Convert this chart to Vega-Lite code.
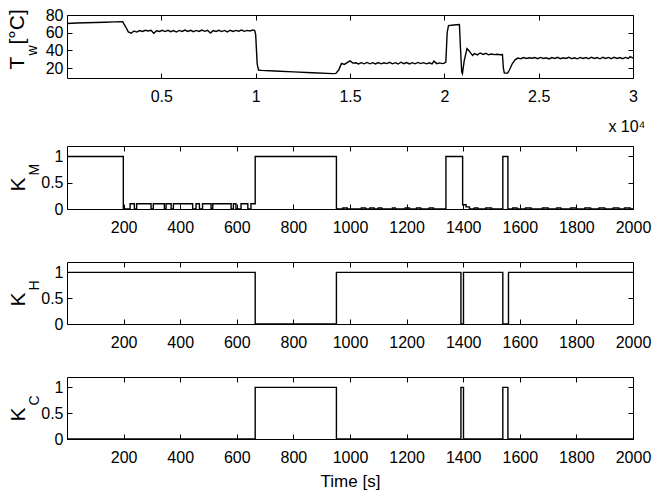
{
  "$schema": "https://vega.github.io/schema/vega-lite/v6.json",
  "padding": {"left": 5, "top": 6, "right": 5, "bottom": 0},
  "spacing": 10,
  "datasets": {
    "tw": [
      {"t":0,"v":70.5},{"t":500,"v":71},{"t":1000,"v":71.3},{"t":1500,"v":71.6},{"t":2000,"v":71.9},{"t":2500,"v":72.2},{"t":2950,"v":72.4},{"t":3100,"v":67},{"t":3250,"v":61},{"t":3400,"v":59.5},{"t":3550,"v":62},{"t":3700,"v":60.8},{"t":3850,"v":62.5},{"t":4000,"v":61.5},{"t":4150,"v":62.8},{"t":4300,"v":62},{"t":4450,"v":62.8},{"t":4600,"v":59.5},{"t":4750,"v":62.3},{"t":4900,"v":61.5},{"t":5050,"v":62.8},{"t":5200,"v":61.3},{"t":5350,"v":62.8},{"t":5500,"v":61.2},{"t":5650,"v":62.5},{"t":5800,"v":60.8},{"t":5950,"v":62.6},{"t":6100,"v":61.5},{"t":6250,"v":63},{"t":6400,"v":61.5},{"t":6550,"v":62.8},{"t":6700,"v":61.2},{"t":6850,"v":62.6},{"t":7000,"v":61.5},{"t":7150,"v":63},{"t":7300,"v":61.6},{"t":7450,"v":62.8},{"t":7600,"v":59.6},{"t":7750,"v":62.4},{"t":7900,"v":61.4},{"t":8050,"v":62.8},{"t":8200,"v":61.3},{"t":8350,"v":62.6},{"t":8500,"v":61},{"t":8650,"v":62.8},{"t":8800,"v":61.5},{"t":8950,"v":62.6},{"t":9100,"v":61.8},{"t":9250,"v":63},{"t":9400,"v":61.6},{"t":9550,"v":62.7},{"t":9700,"v":62},{"t":9850,"v":63.2},{"t":9950,"v":62.5},{"t":10000,"v":58},{"t":10080,"v":25},{"t":10150,"v":18},{"t":10300,"v":17.6},{"t":11000,"v":16.9},{"t":12000,"v":15.9},{"t":13000,"v":14.9},{"t":14100,"v":13.9},{"t":14250,"v":14.2},{"t":14400,"v":18},{"t":14550,"v":25.5},{"t":14700,"v":24.3},{"t":14850,"v":26.3},{"t":15000,"v":28.2},{"t":15150,"v":25.8},{"t":15300,"v":26.2},{"t":15450,"v":24.8},{"t":15600,"v":26.3},{"t":15750,"v":25},{"t":15900,"v":26.5},{"t":16050,"v":25},{"t":16200,"v":26.3},{"t":16350,"v":24.8},{"t":16500,"v":26.4},{"t":16650,"v":25},{"t":16800,"v":26.2},{"t":16950,"v":25.2},{"t":17100,"v":26.6},{"t":17250,"v":25},{"t":17400,"v":26.3},{"t":17550,"v":24.8},{"t":17700,"v":26.8},{"t":17850,"v":25.2},{"t":18000,"v":26.4},{"t":18150,"v":24.8},{"t":18300,"v":26.3},{"t":18450,"v":25},{"t":18600,"v":26.5},{"t":18750,"v":25.2},{"t":18900,"v":26.3},{"t":19050,"v":25},{"t":19200,"v":26.2},{"t":19350,"v":24.8},{"t":19450,"v":28},{"t":19600,"v":25.2},{"t":19750,"v":26},{"t":19900,"v":25.2},{"t":20000,"v":25.8},{"t":20080,"v":27},{"t":20150,"v":60},{"t":20220,"v":68},{"t":20500,"v":68.8},{"t":20800,"v":69.3},{"t":20850,"v":45},{"t":20920,"v":16},{"t":20960,"v":14},{"t":21050,"v":28},{"t":21200,"v":42},{"t":21300,"v":40},{"t":21400,"v":37},{"t":21500,"v":34.5},{"t":21600,"v":36.5},{"t":21750,"v":35},{"t":21900,"v":37.2},{"t":22050,"v":35.5},{"t":22200,"v":36.8},{"t":22350,"v":35.2},{"t":22500,"v":36},{"t":22650,"v":35.3},{"t":22800,"v":35.8},{"t":22950,"v":35.2},{"t":23080,"v":35.5},{"t":23130,"v":20},{"t":23180,"v":14.5},{"t":23350,"v":14.5},{"t":23450,"v":18},{"t":23600,"v":25},{"t":23750,"v":29.5},{"t":23900,"v":31.5},{"t":24050,"v":30.8},{"t":24200,"v":32},{"t":24350,"v":31},{"t":24500,"v":31.8},{"t":24650,"v":31.2},{"t":24800,"v":32},{"t":24950,"v":30.8},{"t":25100,"v":32.2},{"t":25250,"v":31},{"t":25400,"v":31.8},{"t":25550,"v":30.5},{"t":25700,"v":32},{"t":25850,"v":31},{"t":26000,"v":32.3},{"t":26150,"v":30.8},{"t":26300,"v":31.8},{"t":26450,"v":31},{"t":26600,"v":32.4},{"t":26750,"v":30.8},{"t":26900,"v":31.8},{"t":27050,"v":30.6},{"t":27200,"v":32.2},{"t":27350,"v":31},{"t":27500,"v":32},{"t":27650,"v":30.8},{"t":27800,"v":32.4},{"t":27950,"v":31},{"t":28100,"v":32},{"t":28250,"v":30.6},{"t":28400,"v":32.3},{"t":28550,"v":31},{"t":28700,"v":32.2},{"t":28850,"v":30.8},{"t":29000,"v":32.4},{"t":29150,"v":31},{"t":29300,"v":32},{"t":29450,"v":30.7},{"t":29600,"v":32.2},{"t":29750,"v":31},{"t":29850,"v":33},{"t":30000,"v":31.5}
    ],
    "km": [
      {"t":0,"v":1},{"t":199,"v":0},{"t":223,"v":0.1},{"t":238,"v":0},{"t":246,"v":0.1},{"t":297,"v":0},{"t":305,"v":0.1},{"t":344,"v":0},{"t":350,"v":0.1},{"t":368,"v":0},{"t":376,"v":0.1},{"t":444,"v":0},{"t":456,"v":0.1},{"t":468,"v":0},{"t":479,"v":0.1},{"t":509,"v":0},{"t":515,"v":0.1},{"t":580,"v":0},{"t":588,"v":0.1},{"t":597,"v":0},{"t":615,"v":0.1},{"t":639,"v":0},{"t":650,"v":0.1},{"t":665,"v":1},{"t":952,"v":0},{"t":975,"v":0.02},{"t":990,"v":0},{"t":1040,"v":0.02},{"t":1055,"v":0},{"t":1070,"v":0.02},{"t":1085,"v":0},{"t":1100,"v":0.02},{"t":1112,"v":0},{"t":1150,"v":0.02},{"t":1160,"v":0},{"t":1195,"v":0.02},{"t":1210,"v":0},{"t":1235,"v":0.02},{"t":1250,"v":0},{"t":1280,"v":0.02},{"t":1295,"v":0},{"t":1339,"v":1},{"t":1398,"v":0.08},{"t":1410,"v":0.04},{"t":1422,"v":0},{"t":1440,"v":0.02},{"t":1452,"v":0},{"t":1480,"v":0.02},{"t":1500,"v":0},{"t":1540,"v":1},{"t":1558,"v":0},{"t":1575,"v":0.02},{"t":1590,"v":0},{"t":1620,"v":0.02},{"t":1640,"v":0},{"t":1680,"v":0.02},{"t":1700,"v":0},{"t":1730,"v":0.02},{"t":1745,"v":0},{"t":1780,"v":0.02},{"t":1800,"v":0},{"t":1830,"v":0.02},{"t":1850,"v":0},{"t":1880,"v":0.02},{"t":1900,"v":0},{"t":1930,"v":0.02},{"t":1950,"v":0},{"t":1970,"v":0.02},{"t":1990,"v":0},{"t":2000,"v":0}
    ],
    "kh": [
      {"t":0,"v":1},{"t":665,"v":0},{"t":952,"v":1},{"t":1392,"v":0},{"t":1401,"v":1},{"t":1540,"v":0},{"t":1560,"v":1},{"t":2000,"v":1}
    ],
    "kc": [
      {"t":0,"v":0},{"t":665,"v":1},{"t":952,"v":0},{"t":1392,"v":1},{"t":1401,"v":0},{"t":1540,"v":1},{"t":1558,"v":0},{"t":2000,"v":0}
    ]
  },
  "vconcat": [
    {
      "data": {"name": "tw"},
      "width": 566, "height": 63,
      "layer": [
        {
          "mark": {"type": "line", "color": "black", "strokeWidth": 1.4},
          "encoding": {
            "x": {"field": "t", "type": "quantitative", "scale": {"domain": [0, 30000], "nice": false, "zero": false},
              "axis": {"orient": "bottom", "values": [5000, 10000, 15000, 20000, 25000, 30000], "labelExpr": "'' + datum.value / 10000",
                "title": "x 10⁴", "titleX": 578, "titleY": 53, "titleAlign": "right", "titleBaseline": "alphabetic", "titleFontSize": 16}},
            "y": {"field": "v", "type": "quantitative", "scale": {"domain": [9, 80], "nice": false, "zero": false},
              "axis": {"orient": "left", "values": [20, 40, 60, 80], "labelPadding": 9, "labelExpr": "'' + datum.value",
                "title": "T", "titleX": -44, "titleY": 54, "titleAngle": 270, "titleAlign": "left", "titleBaseline": "alphabetic", "titleFontSize": 21}}
          }
        },
        {
          "mark": {"type": "line", "opacity": 0},
          "encoding": {
            "x": {"field": "t", "type": "quantitative",
              "axis": {"orient": "top", "values": [5000, 10000, 15000, 20000, 25000, 30000], "labels": false,
                "title": "[°C]", "titleX": -44, "titleY": 29, "titleAngle": 270, "titleAlign": "left", "titleBaseline": "alphabetic", "titleFontSize": 21}},
            "y": {"field": "v", "type": "quantitative",
              "axis": {"orient": "right", "values": [20, 40, 60, 80], "labels": false,
                "title": "w", "titleX": -597, "titleY": 40, "titleAngle": 270, "titleAlign": "left", "titleBaseline": "alphabetic", "titleFontSize": 14}}
          }
        }
      ],
      "resolve": {"axis": {"x": "independent", "y": "independent"}}
    },
    {
      "data": {"name": "km"},
      "width": 566, "height": 63,
      "layer": [
        {
          "mark": {"type": "line", "interpolate": "step-after", "color": "black", "strokeWidth": 1.4},
          "encoding": {
            "x": {"field": "t", "type": "quantitative", "scale": {"domain": [0, 2000], "nice": false, "zero": false},
              "axis": {"orient": "bottom", "values": [200, 400, 600, 800, 1000, 1200, 1400, 1600, 1800, 2000], "format": "d",
                "title": " ", "titleX": 283, "titleY": 38, "titleBaseline": "alphabetic", "titleFontSize": 17}},
            "y": {"field": "v", "type": "quantitative", "scale": {"domain": [0, 1.2], "nice": false, "zero": false},
              "axis": {"orient": "left", "values": [0, 0.5, 1], "labelPadding": 9, "labelExpr": "'' + datum.value",
                "title": "K", "titleX": -43, "titleY": 45, "titleAngle": 270, "titleAlign": "left", "titleBaseline": "alphabetic", "titleFontSize": 21}}
          }
        },
        {
          "mark": {"type": "line", "opacity": 0},
          "encoding": {
            "x": {"field": "t", "type": "quantitative",
              "axis": {"orient": "top", "values": [200, 400, 600, 800, 1000, 1200, 1400, 1600, 1800, 2000], "labels": false, "title": null}},
            "y": {"field": "v", "type": "quantitative",
              "axis": {"orient": "right", "values": [0, 0.5, 1], "labels": false,
                "title": "M", "titleX": -595, "titleY": 29, "titleAngle": 270, "titleAlign": "left", "titleBaseline": "alphabetic", "titleFontSize": 14}}
          }
        }
      ],
      "resolve": {"axis": {"x": "independent", "y": "independent"}}
    },
    {
      "data": {"name": "kh"},
      "width": 566, "height": 62,
      "layer": [
        {
          "mark": {"type": "line", "interpolate": "step-after", "color": "black", "strokeWidth": 1.4},
          "encoding": {
            "x": {"field": "t", "type": "quantitative", "scale": {"domain": [0, 2000], "nice": false, "zero": false},
              "axis": {"orient": "bottom", "values": [200, 400, 600, 800, 1000, 1200, 1400, 1600, 1800, 2000], "format": "d",
                "title": " ", "titleX": 283, "titleY": 38, "titleBaseline": "alphabetic", "titleFontSize": 17}},
            "y": {"field": "v", "type": "quantitative", "scale": {"domain": [0, 1.2], "nice": false, "zero": false},
              "axis": {"orient": "left", "values": [0, 0.5, 1], "labelPadding": 9, "labelExpr": "'' + datum.value",
                "title": "K", "titleX": -43, "titleY": 44, "titleAngle": 270, "titleAlign": "left", "titleBaseline": "alphabetic", "titleFontSize": 21}}
          }
        },
        {
          "mark": {"type": "line", "opacity": 0},
          "encoding": {
            "x": {"field": "t", "type": "quantitative",
              "axis": {"orient": "top", "values": [200, 400, 600, 800, 1000, 1200, 1400, 1600, 1800, 2000], "labels": false, "title": null}},
            "y": {"field": "v", "type": "quantitative",
              "axis": {"orient": "right", "values": [0, 0.5, 1], "labels": false,
                "title": "H", "titleX": -595, "titleY": 28, "titleAngle": 270, "titleAlign": "left", "titleBaseline": "alphabetic", "titleFontSize": 14}}
          }
        }
      ],
      "resolve": {"axis": {"x": "independent", "y": "independent"}}
    },
    {
      "data": {"name": "kc"},
      "width": 566, "height": 62,
      "layer": [
        {
          "mark": {"type": "line", "interpolate": "step-after", "color": "black", "strokeWidth": 1.4},
          "encoding": {
            "x": {"field": "t", "type": "quantitative", "scale": {"domain": [0, 2000], "nice": false, "zero": false},
              "axis": {"orient": "bottom", "values": [200, 400, 600, 800, 1000, 1200, 1400, 1600, 1800, 2000], "format": "d",
                "title": "Time [s]", "titleX": 283, "titleY": 47, "titleBaseline": "alphabetic", "titleFontSize": 17}},
            "y": {"field": "v", "type": "quantitative", "scale": {"domain": [0, 1.2], "nice": false, "zero": false},
              "axis": {"orient": "left", "values": [0, 0.5, 1], "labelPadding": 9, "labelExpr": "'' + datum.value",
                "title": "K", "titleX": -43, "titleY": 44, "titleAngle": 270, "titleAlign": "left", "titleBaseline": "alphabetic", "titleFontSize": 21}}
          }
        },
        {
          "mark": {"type": "line", "opacity": 0},
          "encoding": {
            "x": {"field": "t", "type": "quantitative",
              "axis": {"orient": "top", "values": [200, 400, 600, 800, 1000, 1200, 1400, 1600, 1800, 2000], "labels": false, "title": null}},
            "y": {"field": "v", "type": "quantitative",
              "axis": {"orient": "right", "values": [0, 0.5, 1], "labels": false,
                "title": "C", "titleX": -595, "titleY": 28, "titleAngle": 270, "titleAlign": "left", "titleBaseline": "alphabetic", "titleFontSize": 14}}
          }
        }
      ],
      "resolve": {"axis": {"x": "independent", "y": "independent"}}
    }
  ],
  "config": {
    "font": "Liberation Sans",
    "background": "white",
    "view": {"stroke": "black", "strokeWidth": 1},
    "axis": {
      "domain": false, "grid": false, "ticks": true, "tickColor": "black", "tickSize": -5, "tickWidth": 1,
      "labelColor": "black", "labelFontSize": 16, "labelFont": "Liberation Sans", "labelPadding": 15,
      "labelFlush": false, "labelOverlap": false,
      "titleColor": "black", "titleFont": "Liberation Sans", "titleFontWeight": "normal"
    }
  }
}
